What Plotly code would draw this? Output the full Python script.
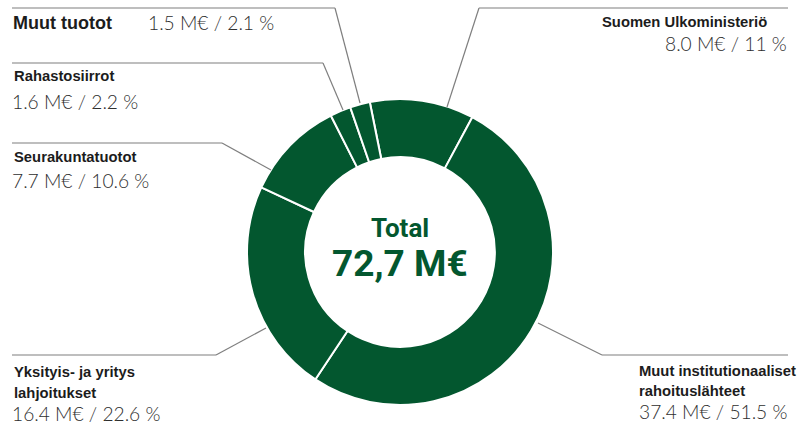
import plotly.graph_objects as go

# ---- data ----
categories = [
    "Suomen Ulkoministeriö",
    "Muut institutionaaliset rahoituslähteet",
    "Yksityis- ja yritys lahjoitukset",
    "Seurakuntatuotot",
    "Rahastosiirrot",
    "Muut tuotot",
]
amounts_meur = [8.0, 37.4, 16.4, 7.7, 1.6, 1.5]
percents = [11, 51.5, 22.6, 10.6, 2.2, 2.1]
total_meur = "72,7"

W, H = 803, 425
GREEN = "#03572f"
GRAY_LINE = "#7f7f7f"
TXT = "#1c1c1c"
VAL = "#2e2e2e"


def px(x):
    return x / W


def py(y):
    return 1 - y / H


fig = go.Figure()

cx, cy, r = 400, 252, 153
fig.add_trace(go.Pie(
    labels=categories,
    values=percents,
    sort=False,
    direction="clockwise",
    rotation=-11.4,
    hole=0.62,
    marker=dict(colors=[GREEN] * len(categories), line=dict(color="white", width=2)),
    textinfo="none",
    hoverinfo="label+percent",
    showlegend=False,
    domain=dict(x=[px(cx - r), px(cx + r)], y=[py(cy + r), py(cy - r)]),
))

# leader lines (pixel positions of layout)
leaders = [
    [(12, 8), (335, 8), (360, 103)],        # Muut tuotot
    [(12, 63), (323, 63), (343, 110)],      # Rahastosiirrot
    [(12, 143), (222, 143), (271, 170)],    # Seurakuntatuotot
    [(12, 355), (216, 355), (266, 328)],    # Yksityis
    [(788, 355), (602, 355), (538, 323)],   # Muut institutionaaliset
    [(788, 8), (479, 8), (447, 107)],       # Suomen
]
shapes = []
for pts in leaders:
    for (x0, y0), (x1, y1) in zip(pts[:-1], pts[1:]):
        shapes.append(dict(type="line", xref="paper", yref="paper",
                           x0=px(x0), y0=py(y0), x1=px(x1), y1=py(y1),
                           line=dict(color=GRAY_LINE, width=1.2)))

BOLD = "Liberation Sans, Arial, sans-serif"
LIGHT = "Lato, Open Sans, sans-serif"


def val_text(i):
    return f"{amounts_meur[i]:.1f} M€ / {percents[i]:g} %"


ann = []


def add(text, x, y, size, family, color, anchor="left", weight="normal"):
    ann.append(dict(text=text, x=px(x), y=py(y), xref="paper", yref="paper",
                    xanchor=anchor, yanchor="middle", showarrow=False,
                    font=dict(size=size, family=family, color=color, weight=weight)))


LS = 14.8
VS = 19.2
# Muut tuotot
add("<b>Muut tuotot</b>", 11, 23, 18, BOLD, TXT)
add(val_text(5), 146, 23, VS, LIGHT, VAL, weight=300)
# Rahastosiirrot
add("<b>Rahastosiirrot</b>", 12, 76, LS, BOLD, TXT)
add(val_text(4), 10, 101, VS, LIGHT, VAL, weight=300)
# Seurakuntatuotot
add("<b>Seurakuntatuotot</b>", 12, 157, LS, BOLD, TXT)
add(val_text(3), 10, 180, VS, LIGHT, VAL, weight=300)
# Yksityis
add("<b>Yksityis- ja yritys</b>", 12, 372, LS, BOLD, TXT)
add("<b>lahjoitukset</b>", 12, 393, LS, BOLD, TXT)
add(val_text(2), 10, 413, VS, LIGHT, VAL, weight=300)
# Muut institutionaaliset
add("<b>Muut institutionaaliset</b>", 637, 371, LS, BOLD, TXT)
add("<b>rahoituslähteet</b>", 637, 391, LS, BOLD, TXT)
add(val_text(1), 789, 411, VS, LIGHT, VAL, anchor="right", weight=300)
# Suomen
add("<b>Suomen Ulkoministeriö</b>", 769, 22, LS, BOLD, TXT, anchor="right")
add(val_text(0), 789, 44, VS, LIGHT, VAL, anchor="right", weight=300)

# centre
add("<b>Total</b>", 400, 228, 26, "Roboto, sans-serif", GREEN, anchor="center")
add(f"<b>{total_meur} M€</b>", 400, 263, 37, "Roboto, sans-serif", GREEN, anchor="center")

fig.update_layout(
    width=W, height=H,
    margin=dict(l=0, r=0, t=0, b=0),
    paper_bgcolor="white", plot_bgcolor="white",
    shapes=shapes, annotations=ann,
)

fig.write_html("out.html", config={"displayModeBar": False},
               post_script="document.body.style.margin='0';document.body.style.overflow='hidden';")
